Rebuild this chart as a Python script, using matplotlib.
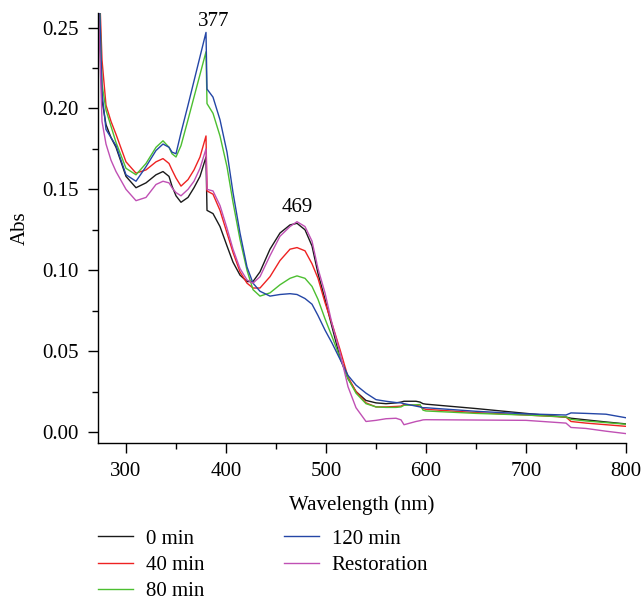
import matplotlib
matplotlib.use("Agg")
import matplotlib.pyplot as plt
from matplotlib.ticker import MultipleLocator, FormatStrFormatter

plt.rcParams['font.family'] = ['Liberation Serif', 'DejaVu Serif']

wavelength = [272, 276, 280, 285, 290, 300, 310, 320, 330, 337, 343, 346, 350, 355,
              362, 368, 374, 380, 381, 387, 394, 401, 407, 414, 421, 427, 434, 444,
              454, 464, 471, 479, 486, 492, 499, 506, 514, 522, 530, 540, 550, 560,
              570, 575, 578, 590, 594, 597, 600, 650, 700, 740, 745, 760, 780, 800]

abs_0min = [0.30, 0.205, 0.190, 0.182, 0.176, 0.158, 0.151, 0.154, 0.159, 0.161, 0.158, 0.152,
            0.146, 0.142, 0.145, 0.151, 0.158, 0.170, 0.137, 0.135, 0.127, 0.115, 0.105, 0.097,
            0.093, 0.093, 0.099, 0.113, 0.123, 0.128, 0.129, 0.125, 0.115, 0.098, 0.082, 0.065,
            0.046, 0.033, 0.025, 0.0195, 0.018, 0.0175, 0.018, 0.0185, 0.019, 0.019, 0.0185,
            0.0175, 0.0172, 0.0145, 0.0115, 0.0092, 0.0085, 0.0075, 0.0062, 0.005]

abs_40min = [0.30, 0.230, 0.202, 0.192, 0.184, 0.167, 0.160, 0.162, 0.167, 0.169, 0.166, 0.162,
             0.157, 0.152, 0.156, 0.162, 0.170, 0.183, 0.149, 0.147, 0.137, 0.123, 0.111, 0.099,
             0.092, 0.089, 0.089, 0.096, 0.106, 0.113, 0.114, 0.112, 0.104, 0.095, 0.080, 0.067,
             0.051, 0.034, 0.025, 0.018, 0.0155, 0.0155, 0.0158, 0.016, 0.017, 0.0165, 0.016,
             0.0145, 0.014, 0.012, 0.0105, 0.0092, 0.0065, 0.0055, 0.0045, 0.0035]

abs_80min = [0.30, 0.215, 0.199, 0.189, 0.179, 0.163, 0.159, 0.166, 0.176, 0.180, 0.176, 0.172,
             0.170, 0.177, 0.193, 0.207, 0.221, 0.235, 0.203, 0.197, 0.183, 0.164, 0.142, 0.119,
             0.100, 0.088, 0.084, 0.086, 0.091, 0.095, 0.0965, 0.095, 0.090, 0.082, 0.070, 0.059,
             0.046, 0.033, 0.024, 0.0175, 0.0155, 0.0152, 0.0152, 0.0155, 0.0165, 0.0168, 0.017,
             0.0135, 0.013, 0.0115, 0.0105, 0.0093, 0.0078, 0.0068, 0.0058, 0.0048]

abs_120min = [0.30, 0.210, 0.187, 0.182, 0.177, 0.159, 0.155, 0.164, 0.174, 0.178, 0.176, 0.173,
              0.172, 0.185, 0.202, 0.217, 0.232, 0.247, 0.212, 0.207, 0.193, 0.173, 0.148, 0.123,
              0.102, 0.092, 0.087, 0.084, 0.085, 0.0855, 0.085, 0.0825, 0.079, 0.072, 0.063, 0.055,
              0.045, 0.035, 0.029, 0.024, 0.020, 0.019, 0.0182, 0.018, 0.0175, 0.016, 0.0155,
              0.015, 0.015, 0.0128, 0.0112, 0.0105, 0.0118, 0.0115, 0.011, 0.0088]

abs_restoration = [0.27, 0.192, 0.178, 0.168, 0.161, 0.150, 0.143, 0.145, 0.153, 0.155, 0.154, 0.151,
                   0.148, 0.146, 0.150, 0.155, 0.163, 0.175, 0.150, 0.149, 0.140, 0.126, 0.113, 0.101,
                   0.094, 0.092, 0.096, 0.109, 0.121, 0.127, 0.130, 0.127, 0.118, 0.101, 0.086, 0.067,
                   0.049, 0.028, 0.015, 0.0065, 0.0072, 0.0082, 0.0085, 0.0075, 0.0045, 0.0065, 0.007,
                   0.0075, 0.0076, 0.0074, 0.0072, 0.0055, 0.0028, 0.0022, 0.0005, -0.001]

series_labels = ['0 min', '40 min', '80 min', '120 min', 'Restoration']
series_colors = ['#1a1a1a', '#ee2222', '#4cbf30', '#2446a6', '#c050b4']
series_values = [abs_0min, abs_40min, abs_80min, abs_120min, abs_restoration]

peak_labels = ['377', '469']
peak_x = [388, 471]
peak_y = [0.254, 0.1387]

FS = 15

fig = plt.figure(figsize=(6.44, 6.03), dpi=100)
ax = fig.add_axes([98/644, 1-443/603, (626-98)/644, (443-13)/603])

handles = []
for vals, lab, col in zip(series_values, series_labels, series_colors):
    h, = ax.plot(wavelength, vals, color=col, lw=1.0, label=lab)
    handles.append(h)

for t, x, y in zip(peak_labels, peak_x, peak_y):
    ax.text(x, y, t, ha='center', va='center', fontsize=FS)

ax.set_xlim(272, 800)
ax.set_ylim(-0.0068, 0.259)
ax.xaxis.set_major_locator(MultipleLocator(100))
ax.xaxis.set_minor_locator(MultipleLocator(50))
ax.yaxis.set_major_locator(MultipleLocator(0.05))
ax.yaxis.set_minor_locator(MultipleLocator(0.025))
ax.yaxis.set_major_formatter(FormatStrFormatter('%.2f'))
for s in ['top', 'right']:
    ax.spines[s].set_visible(False)
for s in ['left', 'bottom']:
    ax.spines[s].set_linewidth(1.0)
ax.tick_params(which='major', direction='out', length=7, width=1.0, labelsize=FS, pad=7)
ax.tick_params(which='minor', direction='out', length=4, width=1.0)
ax.set_xlabel('Wavelength (nm)', fontsize=FS, labelpad=10)
ax.set_ylabel('Abs', fontsize=FS, labelpad=9)

fig.legend(handles=handles, labels=series_labels, ncol=2, frameon=False,
           loc='upper left', bbox_to_anchor=(98/644, 1-529/603),
           borderaxespad=0, borderpad=0, fontsize=FS, handlelength=1.7,
           handletextpad=0.6, columnspacing=3.8, labelspacing=0.33)

fig.savefig('out.png', dpi=100)
